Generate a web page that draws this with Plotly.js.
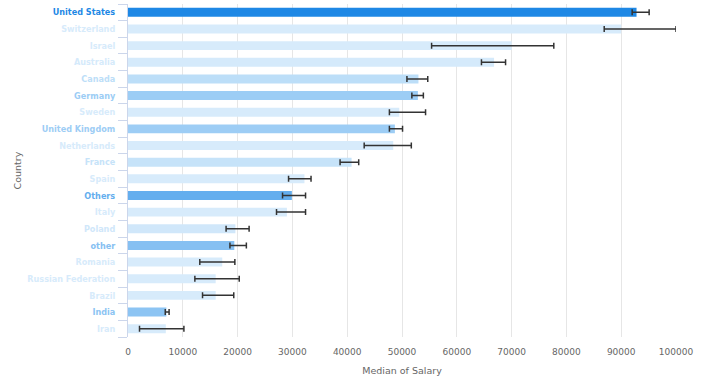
<!DOCTYPE html>
<html>
<head>
<meta charset="utf-8">
<script src="https://cdn.plot.ly/plotly-3.0.1.min.js"></script>
<style>
  html, body { margin: 0; padding: 0; background: #fff; }
  #chart { width: 703px; height: 384px; }
</style>
</head>
<body>
<div id="chart"></div>
<script>
const categories = ["United States","Switzerland","Israel","Australia","Canada","Germany","Sweden","United Kingdom","Netherlands","France","Spain","Others","Italy","Poland","other","Romania","Russian Federation","Brazil","India","Iran"];
const medianSalary = [92800, 90000, 70000, 66800, 53000, 52900, 49500, 48700, 48400, 40800, 32200, 29900, 29000, 19600, 19400, 17200, 16000, 16000, 7000, 6900];
const lowerBound = [92000, 86900, 55400, 64500, 50900, 51800, 47700, 47700, 43100, 38700, 29300, 28200, 27100, 17900, 18600, 13100, 12200, 13600, 6800, 2100];
const upperBound = [95100, 100000, 77700, 68900, 54700, 53900, 54300, 50100, 51700, 42100, 33400, 32400, 32400, 22100, 21600, 19500, 20300, 19300, 7500, 10200];
const xTickVals = [0, 10000, 20000, 30000, 40000, 50000, 60000, 70000, 80000, 90000, 100000];

// style: per-country colour shade
const barColors = ["#1e88e5","#d7ebfb","#d7ebfb","#d5eafb","#bcdef8","#9ccdf5","#d7ebfb","#9dcdf5","#d7ebfb","#c6e3f9","#d7ebfb","#64aeee","#d7ebfb","#d0e7fa","#86c0f2","#d7ebfb","#d7ebfb","#d7ebfb","#8cc4f3","#d7ebfb"];

const errPlus = upperBound.map((u, i) => u - medianSalary[i]);
const errMinus = lowerBound.map((l, i) => medianSalary[i] - l);
const tickText = categories.map((c, i) => '<span style="color:' + barColors[i] + '">' + c + '</span>');

const trace = {
  type: 'bar',
  orientation: 'h',
  x: medianSalary,
  y: categories,
  marker: { color: barColors },
  error_x: {
    type: 'data',
    symmetric: false,
    array: errPlus,
    arrayminus: errMinus,
    color: '#333',
    thickness: 1.5,
    width: 3
  },
  hoverinfo: 'x+y'
};

const layout = {
  width: 703,
  height: 384,
  margin: { l: 128, r: 27, t: 4, b: 47, pad: 0 },
  paper_bgcolor: '#fff',
  plot_bgcolor: '#fff',
  bargap: 0.46,
  showlegend: false,
  font: { family: 'DejaVu Sans, sans-serif', size: 9, color: '#666' },
  xaxis: {
    range: [0, 100000],
    tickvals: xTickVals,
    tickformat: 'd',
    showgrid: true,
    gridcolor: '#e6e6e6',
    gridwidth: 1,
    zeroline: false,
    showline: false,
    ticks: 'outside',
    ticklen: 6,
    tickcolor: 'rgba(0,0,0,0)',
    tickfont: { family: 'DejaVu Sans, sans-serif', size: 9, color: '#666' },
    title: { text: 'Median of Salary', font: { family: 'DejaVu Sans, sans-serif', size: 9.5, color: '#666' }, standoff: 11 }
  },
  yaxis: {
    type: 'category',
    categoryorder: 'array',
    categoryarray: categories,
    autorange: 'reversed',
    tickvals: categories,
    ticktext: tickText,
    showline: true,
    linecolor: '#ccd6eb',
    linewidth: 1,
    ticks: 'outside',
    ticklen: 9,
    tickcolor: '#ccd6eb',
    tickson: 'boundaries',
    ticklabelstandoff: 10,
    showgrid: false,
    zeroline: false,
    tickfont: { family: 'DejaVu Sans Condensed, DejaVu Sans, sans-serif', size: 9, weight: 'bold' },
    title: { text: 'Country', font: { family: 'DejaVu Sans, sans-serif', size: 9.5, color: '#666' }, standoff: 4 }
  }
};

Plotly.newPlot('chart', [trace], layout, { displayModeBar: false, staticPlot: true });
</script>
</body>
</html>
